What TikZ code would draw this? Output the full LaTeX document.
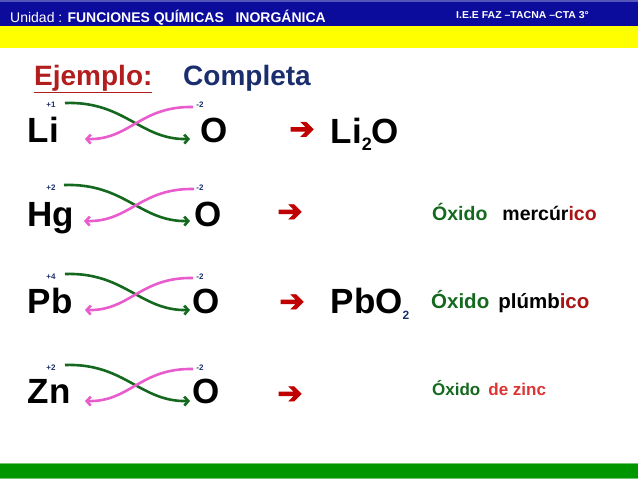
\documentclass[tikz,border=0pt]{standalone}
\usepackage{fontspec}
\setmainfont{Liberation Sans}
\newfontfamily\symfont[FakeBold=3]{DejaVu Sans}
\usetikzlibrary{arrows.meta}

\definecolor{barblue}{RGB}{12,12,156}
\definecolor{baryellow}{RGB}{255,255,0}
\definecolor{bargreen}{RGB}{0,150,0}
\definecolor{exred}{RGB}{178,30,30}
\definecolor{navy}{RGB}{26,46,110}
\definecolor{givegreen}{RGB}{20,105,30}
\definecolor{takepink}{RGB}{232,92,205}
\definecolor{arrowred}{RGB}{192,0,0}
\definecolor{icored}{RGB}{170,20,20}
\definecolor{zincred}{RGB}{222,52,52}

\tikzset{
  elem/.style={font=\fontsize{35}{35}\bfseries\selectfont, inner sep=0pt, anchor=base west},
  oxnum/.style={font=\fontsize{8}{8}\bfseries\selectfont, text=navy, inner sep=0pt},
  give/.style={draw=givegreen, line width=2.6pt, -{Straight Barb[length=4pt,width=9pt]}},
  take/.style={draw=takepink, line width=2.6pt, -{Straight Barb[length=4pt,width=9pt]}},
  yields/.style={font=\symfont\fontsize{30}{30}\selectfont, text=arrowred, inner sep=0pt},
  oxname/.style={font=\bfseries, inner sep=0pt, anchor=base west}
}

\begin{document}
\begin{tikzpicture}[x=1pt, y=-1pt]
        \useasboundingbox (0,0) rectangle (638,479);
        % bars
        \fill[barblue] (0,0) rectangle (638,26);
        \fill[barblue!70!white] (0,0) rectangle (638,1.5);
        \fill[baryellow] (0,26) rectangle (638,48);
        \fill[bargreen!55!white] (0,462.5) rectangle (638,479);
        \fill[bargreen] (0,464) rectangle (638,477.5);
        \draw (10,22.5) node[anchor=base west, inner sep=0pt, text=white, font=\fontsize{14}{14}\selectfont](unidad) {Unidad : \textbf{FUNCIONES QUÍMICAS\ \ \ INORGÁNICA}};
        \draw (456,18.5) node[anchor=base west, inner sep=0pt, text=white, xscale=1.05, font=\fontsize{10}{10}\bfseries\selectfont](iee) {I.E.E FAZ –TACNA –CTA 3°};
        \draw (34,85) node[anchor=base west, inner sep=0pt, text=exred, font=\fontsize{28}{28}\bfseries\selectfont](ej) {\underline{Ejemplo:}};
        \draw (183,85) node[anchor=base west, inner sep=0pt, text=navy, font=\fontsize{28}{28}\bfseries\selectfont](comp) {Completa};
        % Li
        \draw (27.5,142) node[elem](li) {Li};
        \draw (200.5,142) node[elem](oli) {O};
        \draw (51,105) node[oxnum](pli) {+1};
        \draw (200,105) node[oxnum](qli) {-2};
        \coordinate (gli1) at (65,103);  \coordinate (gli2) at (190,139);
        \coordinate (tli1) at (193,107); \coordinate (tli2) at (85,139);
        \draw[give] (gli1) .. controls (125,101) and (140,140) .. (gli2);
        \draw[take] (tli1) .. controls (140,106) and (130,140) .. (tli2);
        \draw (302,130.5) node[yields](ali) {➔};
        \draw (330.5,143) node[elem](rli) {Li\raisebox{-7pt}{\fontsize{18}{18}\selectfont 2}O};
        % Hg
        \draw (27.5,226) node[elem](hg) {Hg};
        \draw (194,226) node[elem](ohg) {O};
        \draw (51,188) node[oxnum](phg) {+2};
        \draw (200,188) node[oxnum](qhg) {-2};
        \coordinate (ghg1) at (64,185);  \coordinate (ghg2) at (190,221);
        \coordinate (thg1) at (194,189); \coordinate (thg2) at (84,221);
        \draw[give] (ghg1) .. controls (125,183) and (140,222) .. (ghg2);
        \draw[take] (thg1) .. controls (140,188) and (130,222) .. (thg2);
        \draw (290,213) node[yields](ahg) {➔};
        \draw (432,220) node[oxname, font=\fontsize{19.5}{19.5}\bfseries\selectfont](nhg) {\textcolor{givegreen}{Óxido}\hspace{15pt}mercúr\textcolor{icored}{ico}};
        % Pb
        \draw (27.5,313) node[elem](pb) {Pb};
        \draw (192,313) node[elem](opb) {O};
        \draw (51,277) node[oxnum](ppb) {+4};
        \draw (200,277) node[oxnum](qpb) {-2};
        \coordinate (gpb1) at (65,274);  \coordinate (gpb2) at (190,310);
        \coordinate (tpb1) at (193,278); \coordinate (tpb2) at (85,310);
        \draw[give] (gpb1) .. controls (125,272) and (140,311) .. (gpb2);
        \draw[take] (tpb1) .. controls (140,277) and (130,311) .. (tpb2);
        \draw (292,303) node[yields](apb) {➔};
        \draw (330.5,313) node[elem](rpb) {PbO\raisebox{-6pt}{\textcolor{navy}{\fontsize{12}{12}\selectfont 2}}};
        \draw (431,308) node[oxname, font=\fontsize{20.5}{20.5}\bfseries\selectfont](npb) {\textcolor{givegreen}{Óxido}\hspace{9pt}plúmb\textcolor{icored}{ico}};
        % Zn
        \draw (27.5,403) node[elem](zn) {Zn};
        \draw (192,403) node[elem](ozn) {O};
        \draw (51,368) node[oxnum](pzn) {+2};
        \draw (200,368) node[oxnum](qzn) {-2};
        \coordinate (gzn1) at (65,365);  \coordinate (gzn2) at (190,401);
        \coordinate (tzn1) at (193,369); \coordinate (tzn2) at (85,401);
        \draw[give] (gzn1) .. controls (125,363) and (140,402) .. (gzn2);
        \draw[take] (tzn1) .. controls (140,368) and (130,402) .. (tzn2);
        \draw (290,395) node[yields](azn) {➔};
        \draw (432,395) node[oxname, font=\fontsize{17}{17}\bfseries\selectfont](nzn) {\textcolor{givegreen}{Óxido}\hspace{8pt}\textcolor{zincred}{de zinc}};
    \end{tikzpicture}
\end{document}
